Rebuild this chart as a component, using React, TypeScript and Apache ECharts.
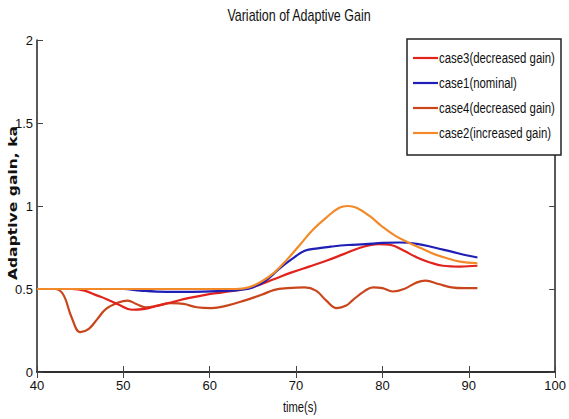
import React, { useEffect, useRef } from "react";
import * as echarts from "echarts";

const seriesNames = ["case3(decreased gain)", "case1(nominal)", "case4(decreased gain)", "case2(increased gain)"];
const seriesColors = ["#e2231c", "#1f1fb8", "#c9461c", "#f28a2a"];
const titleText = "Variation of Adaptive Gain";
const xAxisName = "time(s)";
const yAxisName = "Adaptive gain, ka";

const case3: [number, number][] = [
  [40, 0.5], [44, 0.5], [45.5, 0.49], [47, 0.46], [48, 0.44], [49.5, 0.405], [51, 0.375], [52.5, 0.38],
  [54, 0.4], [55.6, 0.42], [57.5, 0.445], [59.5, 0.465], [61.5, 0.48], [63.5, 0.495], [65.5, 0.52],
  [67.5, 0.56], [69.5, 0.6], [71.5, 0.635], [73.5, 0.67], [75.5, 0.71], [77.5, 0.75], [79.5, 0.77],
  [81, 0.765], [82.5, 0.73], [84, 0.69], [85.5, 0.66], [87, 0.64], [89, 0.635], [91, 0.64],
];
const case1: [number, number][] = [
  [40, 0.5], [50, 0.5], [52, 0.49], [55, 0.483], [58, 0.483], [61, 0.487], [63.5, 0.495], [65, 0.51],
  [66.5, 0.55], [68, 0.62], [69.5, 0.68], [71, 0.73], [72.5, 0.745], [74, 0.755], [76, 0.765],
  [78, 0.77], [80, 0.778], [82, 0.78], [84, 0.772], [86, 0.75], [88, 0.725], [90, 0.7], [91, 0.69],
];
const case4: [number, number][] = [
  [40, 0.5], [42, 0.5], [43, 0.47], [44, 0.33], [45, 0.24], [46, 0.26], [47, 0.32], [48, 0.38],
  [49.5, 0.42], [50.5, 0.43], [51.5, 0.41], [52.6, 0.39], [54, 0.4], [55.5, 0.415], [57, 0.41],
  [58.5, 0.39], [60.2, 0.385], [62, 0.4], [64, 0.43], [66, 0.465], [67.5, 0.495], [69, 0.505],
  [71, 0.51], [72.3, 0.49], [73.5, 0.43], [74.7, 0.385], [75.8, 0.4], [76.6, 0.435], [78, 0.49],
  [78.9, 0.51], [80, 0.505], [81.2, 0.485], [82.5, 0.5], [84, 0.54], [85, 0.55], [86.5, 0.53],
  [88, 0.51], [89.5, 0.505], [91, 0.505],
];
const case2: [number, number][] = [
  [40, 0.5], [63, 0.5], [64.5, 0.51], [66, 0.545], [67.5, 0.6], [69, 0.68], [70.5, 0.77], [72, 0.86],
  [73.5, 0.93], [75, 0.99], [76, 1.0], [77, 0.99], [78.5, 0.94], [80, 0.875], [81.5, 0.82], [83, 0.78],
  [84.5, 0.745], [86, 0.71], [87.5, 0.685], [89, 0.665], [91, 0.655],
];
const seriesData = [case3, case1, case4, case2];

const FONT = "'Liberation Sans', Arial, sans-serif";

export default function App() {
  const ref = useRef<HTMLDivElement>(null);
  useEffect(() => {
    if (!ref.current) return;
    const chart = echarts.init(ref.current, null, { renderer: "svg" });
    const axisCommon = {
      axisLine: { lineStyle: { color: "#222", width: 1.5 } },
      axisTick: { inside: true, length: 6, lineStyle: { color: "#444" } },
      splitLine: { show: false },
    };
    const legendLeft = 407;
    const legendTop = 39;
    const legendItems: any[] = [];
    seriesNames.forEach((name, i) => {
      const cy = 58 + i * 25;
      legendItems.push({
        type: "line",
        shape: { x1: legendLeft + 6, y1: cy, x2: legendLeft + 31, y2: cy },
        style: { stroke: seriesColors[i], lineWidth: 2.2 },
        z: 101,
      });
      legendItems.push({
        type: "text",
        x: legendLeft + 32,
        y: cy,
        scaleX: 0.76,
        style: {
          text: name,
          font: `15px ${FONT}`,
          fill: "#111",
          textAlign: "left",
          textVerticalAlign: "middle",
        },
        z: 101,
      });
    });
    chart.setOption({
      animation: false,
      backgroundColor: "#fff",
      grid: { left: 37, right: 8, top: 40, bottom: 47 },
      graphic: [
        {
          type: "text",
          x: 299,
          y: 15,
          scaleX: 0.78,
          style: {
            text: titleText,
            font: `16px ${FONT}`,
            fill: "#111",
            textAlign: "center",
            textVerticalAlign: "middle",
          },
        },
        {
          type: "text",
          x: 13,
          y: 203,
          rotation: Math.PI / 2,
          scaleX: 1.3,
          style: {
            text: yAxisName,
            font: `bold 12px 'DejaVu Sans', sans-serif`,
            fill: "#111",
            textAlign: "center",
            textVerticalAlign: "middle",
          },
        },
        {
          type: "text",
          x: 300,
          y: 408,
          scaleX: 0.8,
          style: {
            text: xAxisName,
            font: `14px ${FONT}`,
            fill: "#111",
            textAlign: "center",
            textVerticalAlign: "middle",
          },
        },
        {
          type: "rect",
          shape: { x: legendLeft, y: legendTop, width: 154, height: 116 },
          style: { fill: "#fff", stroke: "#222", lineWidth: 1.5 },
          z: 100,
        },
        ...legendItems,
      ],
      xAxis: [
        {
          type: "value", min: 40, max: 100, interval: 10, position: "bottom",
          axisLabel: { fontFamily: FONT, fontSize: 13, color: "#111", margin: 7 },
          ...axisCommon,
        },
        {
          type: "value", min: 40, max: 100, interval: 10, position: "top",
          axisLabel: { show: false }, ...axisCommon,
        },
      ],
      yAxis: [
        {
          type: "value", min: 0, max: 2, interval: 0.5, position: "left",
          axisLabel: { fontFamily: FONT, fontSize: 13, color: "#111", margin: 4 },
          ...axisCommon,
        },
        {
          type: "value", min: 0, max: 2, interval: 0.5, position: "right",
          axisLabel: { show: false }, ...axisCommon,
        },
      ],
      series: seriesNames.map((name, i) => ({
        name,
        type: "line",
        data: seriesData[i],
        smooth: 0.4,
        symbol: "none",
        color: seriesColors[i],
        lineStyle: { width: 2.2, color: seriesColors[i] },
        z: i === 2 ? 1 : 2 + i,
      })),
    });
    return () => chart.dispose();
  }, []);
  return <div ref={ref} style={{ width: 569, height: 419, position: "absolute", left: 0, top: 0 }} />;
}
